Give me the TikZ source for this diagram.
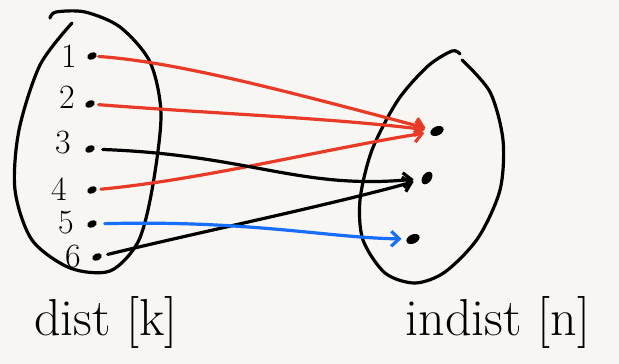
\documentclass[tikz,border=0pt]{standalone}
\usepackage{tikz}
\usetikzlibrary{arrows.meta, shapes.geometric}
\tikzset{>={Straight Barb[length=8pt,width=15pt]}}
\usepackage{xcolor}
\definecolor{paper}{RGB}{248,246,242}
\definecolor{myred}{RGB}{232,58,38}
\definecolor{myblue}{RGB}{22,110,250}
\tikzstyle{pt}=[ellipse,fill=black,inner sep=0,minimum width=10pt,minimum height=7pt,rotate=25]
\tikzstyle{num}=[font=\fontsize{34}{36}\selectfont]
\tikzstyle{setname}=[font=\fontsize{52}{56}\selectfont]
\tikzstyle{pen}=[line width=3.2pt,line cap=round,line join=round]

\begin{document}
\begin{tikzpicture}[x=1pt,y=-1pt]
		\useasboundingbox[fill=paper] (0,0) rectangle (619,364);
		
		% the two sets
		\draw[pen] plot[smooth] coordinates {(72,23) (40,65) (19,130) (15,190) (32,240) (70,268) (110,271) (138,242) (152,190) (161,115) (150,62) (120,27) (85,12) (56,12) (50,18)};
		\draw[pen] plot[smooth] coordinates {(462,60) (490,92) (503,140) (500,190) (478,238) (445,272) (415,283) (385,273) (363,240) (360,200) (372,150) (398,100) (428,66) (452,51) (460,54)};
		
		\node[num] (n1) at (69,56) {1};
		\node[num] (n2) at (67,97) {2};
		\node[num] (n3) at (63,143) {3};
		\node[num] (n4) at (59,189) {4};
		\node[num] (n5) at (66,223) {5};
		\node[num] (n6) at (73,257) {6};
		
		\node[pt] (l1) at (92,56) {};
		\node[pt] (l2) at (90,104) {};
		\node[pt] (l3) at (90,149) {};
		\node[pt] (l4) at (92,190) {};
		\node[pt] (l5) at (92,224) {};
		\node[pt] (l6) at (97,257) {};
		
		\node[pt,minimum width=14pt,minimum height=9pt] (r1) at (437,131) {};
		\node[pt,minimum width=14pt,minimum height=9pt,rotate=30] (r2) at (427,178) {};
		\node[pt,minimum width=14pt,minimum height=9pt] (r3) at (413,239) {};
		
		\draw[pen,myred,->,shorten <=2pt,shorten >=6pt] (l1) .. controls (180,62) and (300,95) .. (r1);
		\draw[pen,myred,->,shorten <=4pt,shorten >=6pt] (l2) .. controls (220,114) and (330,118) .. (r1);
		\draw[pen,myred,->,shorten <=4pt,shorten >=6pt] (l4) .. controls (200,180) and (320,150) .. (r1);
		\draw[pen,->,shorten <=8pt,shorten >=8pt] (l3) .. controls (250,155) and (300,190) .. (r2);
		\draw[pen,->,shorten <=6pt,shorten >=8pt] (l6) .. controls (200,232) and (330,205) .. (r2);
		\draw[pen,myblue,->,shorten <=8pt,shorten >=5pt] (l5) .. controls (250,220) and (330,238) .. (r3);
		
		\node[setname] (dist) at (106,322) {dist [k]};
		\node[setname] (indist) at (498,322) {indist [n]};
	\end{tikzpicture}
\end{document}
